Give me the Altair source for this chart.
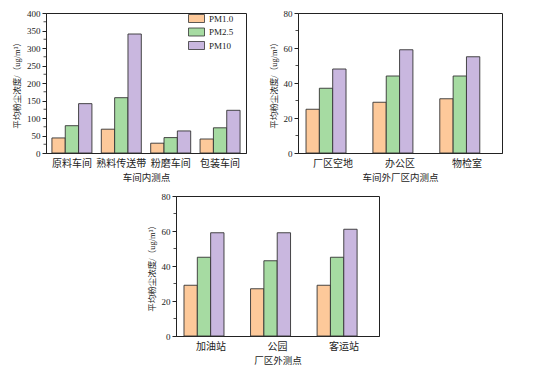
import altair as alt
import pandas as pd

series = ["PM1.0", "PM2.5", "PM10"]
colors = ["#FDC99A", "#A6DBA2", "#C9B7DF"]

cats1 = ["原料车间", "熟料传送带", "粉磨车间", "包装车间"]
pm1_1 = [43, 68, 28, 40]
pm25_1 = [78, 158, 44, 72]
pm10_1 = [141, 340, 63, 122]

cats2 = ["厂区空地", "办公区", "物检室"]
pm1_2 = [25, 29, 31]
pm25_2 = [37, 44, 44]
pm10_2 = [48, 59, 55]

cats3 = ["加油站", "公园", "客运站"]
pm1_3 = [29, 27, 29]
pm25_3 = [45, 43, 45]
pm10_3 = [59, 59, 61]

ytitle = "平均粉尘浓度/（ug/m³）"
FONT = "Liberation Serif, DejaVu Serif, Noto Sans CJK SC"


def panel(cats, a, b, c, ymax, ystep, mstep, xtitle, w=200, h=140):
    rows = []
    for i, cat in enumerate(cats):
        for s, vals in zip(series, [a, b, c]):
            rows.append({"cat": cat, "series": s, "value": vals[i]})
    df = pd.DataFrame(rows)
    major = list(range(0, ymax + 1, ystep))
    minor = [v for v in range(0, ymax + 1, mstep) if v % ystep != 0]
    mdf = pd.DataFrame({"value": minor})
    yscale = alt.Scale(domain=[0, ymax], nice=False)
    yaxis = alt.Axis(title=ytitle, values=major, grid=False,
                     tickSize=4, labelFontSize=9, titleFontSize=8.5,
                     titleFontWeight="normal", labelPadding=2,
                     titlePadding=5, labelOverlap=False)
    bars = alt.Chart(df).mark_bar(stroke="#333333", strokeWidth=0.9).encode(
        x=alt.X("cat:N", sort=cats,
                scale=alt.Scale(paddingInner=0.19, paddingOuter=0.12),
                axis=alt.Axis(title=xtitle, labelAngle=0, ticks=False,
                              labelFontSize=10, titleFontSize=9.5,
                              titleFontWeight="normal", labelPadding=5,
                              titlePadding=4)),
        xOffset=alt.XOffset("series:N", sort=series,
                            scale=alt.Scale(paddingInner=0, paddingOuter=0)),
        y=alt.Y("value:Q", scale=yscale, axis=yaxis),
        color=alt.Color("series:N", sort=series,
                        scale=alt.Scale(domain=series, range=colors),
                        legend=alt.Legend(title=None, orient="none",
                                          legendX=w - 54, legendY=1,
                                          symbolType="M-2,-1H2V1H-2Z",
                                          symbolSize=64,
                                          symbolStrokeColor="#333333",
                                          symbolStrokeWidth=0.8,
                                          labelFontSize=9, labelOffset=8,
                                          rowPadding=0.5, padding=0)),
    )
    ticks = alt.Chart(mdf).mark_rule(color="#222222", strokeWidth=0.8).encode(
        y=alt.Y("value:Q", scale=yscale, axis=yaxis),
        x=alt.value(-2.5), x2=alt.value(0)
    )
    return alt.layer(bars, ticks).properties(width=w, height=h)


p1 = panel(cats1, pm1_1, pm25_1, pm10_1, 400, 50, 25, "车间内测点", w=200)
p2 = panel(cats2, pm1_2, pm25_2, pm10_2, 80, 20, 10, "车间外厂区内测点", w=204)
p3 = panel(cats3, pm1_3, pm25_3, pm10_3, 80, 20, 10, "厂区外测点", w=203)

spacer = alt.Chart(pd.DataFrame({"a": [0]})).mark_point(opacity=0).properties(
    width=100, height=10, view=alt.ViewBackground(strokeWidth=0, stroke=None)
)

top = alt.hconcat(p1, p2, spacing=21)
bottom = alt.hconcat(spacer, p3, spacing=0)
chart = alt.vconcat(top, bottom, spacing=9).configure(
    font=FONT,
).configure_view(
    stroke="#222222", strokeWidth=1
).configure_axis(
    domainColor="#222222", tickColor="#222222", labelColor="#222222",
    titleColor="#222222", labelFont=FONT, titleFont=FONT
).configure_legend(
    labelFont=FONT, labelColor="#222222"
).properties(background="white", padding={"left": 4, "top": 0, "right": 5, "bottom": 0})

chart.save("out.html", embed_options={"renderer": "svg", "actions": False})
